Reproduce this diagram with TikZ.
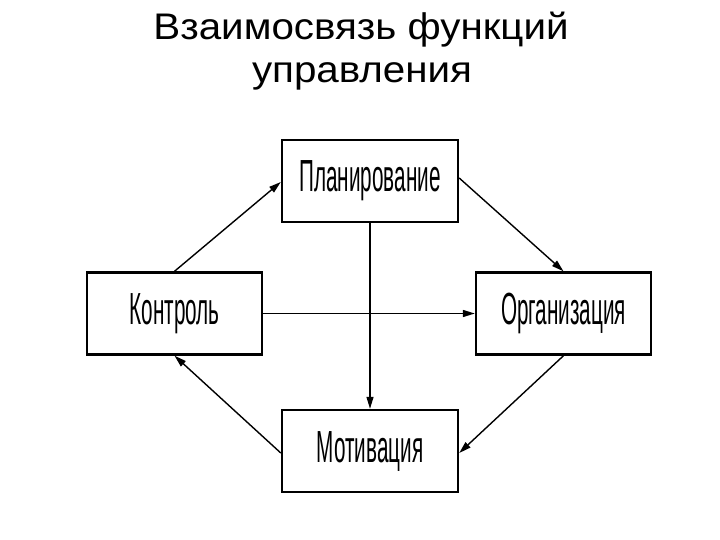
\documentclass[tikz,border=0pt]{standalone}
\usepackage{fontspec}
\setmainfont{Liberation Sans}
\newfontfamily\narrowfont[FakeStretch=0.46]{Liberation Sans}
\newfontfamily\titlefont[FakeStretch=1.09]{Liberation Sans}
\usetikzlibrary{arrows.meta}
\begin{document}
\begin{tikzpicture}[x=1pt,y=-1pt,
  ttl/.style={anchor=base,inner sep=0pt,font=\titlefont\fontsize{37}{43}\selectfont},
  fbox/.style={draw,line width=2.4pt,minimum width=176pt,minimum height=82pt,inner sep=0pt,font=\narrowfont\fontsize{45}{45}\selectfont},
  conn/.style={line width=1.4pt,-{Triangle[length=12pt,width=7pt]}}]
\useasboundingbox (0,0) rectangle (720,540);
\node[ttl] (title1) at (361,40) {Взаимосвязь функций};
\node[ttl] (title2) at (362,83) {управления};
\node[fbox] (plan) at (370,181) {Планирование};
\node[fbox,minimum width=175pt] (ctrl) at (174.5,313.5) {Контроль};
\node[fbox,minimum width=175pt] (org) at (563.5,313.5) {Организация};
\node[fbox] (mot) at (370,451) {Мотивация};
\draw[conn] (ctrl.north) -- ([yshift=-1pt]plan.west);
\draw[conn] ([yshift=3pt]plan.east) -- (org.north);
\draw[conn] (org.south) -- ([yshift=-2pt]mot.east);
\draw[conn] ([yshift=-2pt]mot.west) -- (ctrl.south);
\draw[conn] (ctrl.east) -- (org.west);
\draw[conn] (plan.south) -- (mot.north);
\end{tikzpicture}
\end{document}
